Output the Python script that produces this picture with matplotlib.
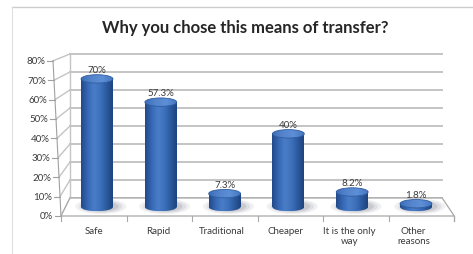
import numpy as np
import matplotlib
matplotlib.use("Agg")
import matplotlib.pyplot as plt
from matplotlib.patches import Ellipse, Polygon
from matplotlib.colors import LinearSegmentedColormap

categories = ["Safe", "Rapid", "Traditional", "Cheaper", "It is the only\nway", "Other\nreasons"]
values = [70, 57.3, 7.3, 40, 8.2, 1.8]
value_labels = ["70%", "57.3%", "7.3%", "40%", "8.2%", "1.8%"]
yticks = [0, 10, 20, 30, 40, 50, 60, 70, 80]
title = "Why you chose this means of transfer?"

plt.rcParams["font.family"] = ["Lato", "DejaVu Sans"]

# fake 3D: bars sit on a middle plane, axis ticks on the front plane, grid on the back wall
def front(v):
    return (-9 + 1.94 * v) / 1.83

def back(v):
    return (9 + 1.8 * v) / 1.83

def xfront(v):
    return (61 - 0.1 * v - 97) / 63.8

XB_L, XB_R, XF_R = -0.423, 5.41, 5.6
TEXT = "#3a3a3a"
GRID = "#c4c4c4"

fig = plt.figure(figsize=(4.73, 2.55), dpi=100)
ax = fig.add_axes([0, 0, 1, 1])
ax.axis("off")

# back wall grid + left wall
for v in yticks:
    ax.plot([XB_L, XB_R], [back(v), back(v)], color=GRID, lw=1.4, zorder=1)
    ax.plot([xfront(v), XB_L], [front(v), back(v)], color=GRID, lw=1.0, zorder=1)
    ax.plot([xfront(v) - 0.09, xfront(v)], [front(v), front(v)], color="#a0a0a0", lw=0.8, zorder=2)
    ax.text(xfront(v) - 0.12, front(v), f"{v}%", ha="right", va="center",
            fontsize=7, color=TEXT)
ax.plot([xfront(0), xfront(80)], [front(0), front(80)], color="#a0a0a0", lw=0.8, zorder=2)
ax.plot([XB_L, XB_L], [back(0), back(80)], color=GRID, lw=1.0, zorder=1)

# floor
floor = Polygon([(xfront(0), front(0)), (XF_R, front(0)), (XB_R, back(0)), (XB_L, back(0))],
                closed=True, facecolor="white", edgecolor="#a8a8a8", lw=0.9, zorder=2)
ax.add_patch(floor)
ax.plot([XF_R, XF_R], [front(0), front(0) - 2.8], color="#a8a8a8", lw=0.9, zorder=2)
for k in range(len(categories) + 1):
    xs = xfront(0) + k * (XF_R - xfront(0)) / len(categories)
    ax.plot([xs, xs], [front(0), front(0) - 2.8], color="#a8a8a8", lw=0.8, zorder=2)

body_cmap = LinearSegmentedColormap.from_list(
    "body", ["#21498a", "#3567b2", "#4a7dc8", "#3f72bd", "#2c5a9f", "#1e437f"])
top_cmap = LinearSegmentedColormap.from_list(
    "top", ["#3d6fb8", "#5384cc", "#5d8ed6", "#4577c2"])
grad = np.linspace(0, 1, 128)[None, :]

w, eh = 0.5, 4.6
for i, (v, lab) in enumerate(zip(values, value_labels)):
    # shadow on the floor
    for s, a in [(1.0, 0.07), (0.85, 0.09), (0.7, 0.12)]:
        ax.add_patch(Ellipse((i + 0.06, 0.3), w * 1.6 * s, eh * 1.8 * s,
                             facecolor="#303848", alpha=a, lw=0, zorder=3))
    bottom = Ellipse((i, 0), w, eh, facecolor="none", lw=0)
    ax.add_patch(bottom)
    im = ax.imshow(grad, extent=(i - w / 2, i + w / 2, -eh / 2, eh / 2), cmap=body_cmap,
                   aspect="auto", zorder=4, interpolation="bilinear")
    im.set_clip_path(bottom)
    ax.imshow(grad, extent=(i - w / 2, i + w / 2, 0, v), cmap=body_cmap,
              aspect="auto", zorder=4, interpolation="bilinear")
    topcap = Ellipse((i, v), w, eh, facecolor="none", edgecolor="#2f5da0", lw=0.6, zorder=6)
    ax.add_patch(topcap)
    im2 = ax.imshow(grad, extent=(i - w / 2, i + w / 2, v - eh / 2, v + eh / 2), cmap=top_cmap,
                    aspect="auto", zorder=5, interpolation="bilinear")
    im2.set_clip_path(topcap)
    ax.text(i, v + 5.2, lab, ha="center", va="center", fontsize=7, color=TEXT, zorder=7)

for i, c in enumerate(categories):
    ax.text(i - 0.04, -10.2, c, ha="center", va="top", fontsize=7, color=TEXT,
            linespacing=1.25)

ax.text(245 / 473, 0.89, title, transform=ax.transAxes, ha="center", va="center",
        fontsize=12, fontweight="bold", color="#262626")

# outer frame
ax.plot([12 / 473, 1], [0.9686, 0.9686], transform=ax.transAxes, color="#cccccc", lw=1)
ax.plot([12 / 473, 12 / 473], [0, 0.9686], transform=ax.transAxes, color="#e0e0e0", lw=0.8)

ax.set_xlim(-97 / 63.8, (473 - 97) / 63.8)
ax.set_ylim((208 - 255) / 1.83, 208 / 1.83)

fig.savefig("out.png", dpi=100)
